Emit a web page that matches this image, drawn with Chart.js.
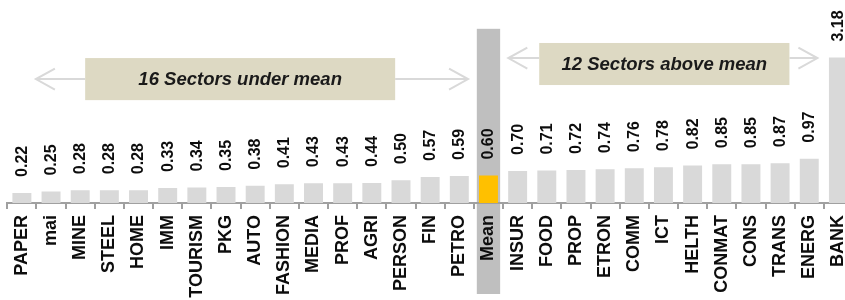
<!DOCTYPE html>
<html>
<head>
<meta charset="utf-8">
<script src="https://cdn.jsdelivr.net/npm/chart.js@4/dist/chart.umd.min.js"></script>
<style>
  html, body { margin: 0; padding: 0; background: #fff; overflow: hidden; }
  #caja { width: 853px; height: 300px; }
</style>
</head>
<body>
<div id="caja"><canvas id="grafico" width="853" height="300"></canvas></div>
<script>
// datos
const categorias = ["PAPER", "mai", "MINE", "STEEL", "HOME", "IMM", "TOURISM", "PKG", "AUTO", "FASHION",
  "MEDIA", "PROF", "AGRI", "PERSON", "FIN", "PETRO", "Mean", "INSUR", "FOOD", "PROP",
  "ETRON", "COMM", "ICT", "HELTH", "CONMAT", "CONS", "TRANS", "ENERG", "BANK"];
const valores = [0.22, 0.25, 0.28, 0.28, 0.28, 0.33, 0.34, 0.35, 0.38, 0.41,
  0.43, 0.43, 0.44, 0.50, 0.57, 0.59, 0.60, 0.70, 0.71, 0.72,
  0.74, 0.76, 0.78, 0.82, 0.85, 0.85, 0.87, 0.97, 3.18];
const etiquetaMedia = "Mean";
const textoAbajo = "16 Sectors under mean";
const textoArriba = "12 Sectors above mean";

const fuente = '"Liberation Sans", Arial, sans-serif';
const indiceMedia = categorias.indexOf(etiquetaMedia);
const colores = categorias.map(c => c === etiquetaMedia ? "#ffc000" : "#d9d9d9");

// columna gris detras de la media
const fondoMedia = {
  id: "fondoMedia",
  beforeDraw(chart) {
    let ctx = chart.ctx;
    let x = chart.scales.x, y = chart.scales.y;
    let ancho = (x.getPixelForValue(1) - x.getPixelForValue(0)) * 0.8;
    let cx = x.getPixelForValue(indiceMedia);
    let arriba = y.getPixelForValue(3.81);
    let abajo = chart.chartArea.bottom + 91;
    ctx.save();
    ctx.fillStyle = "#bfbfbf";
    ctx.fillRect(cx - ancho / 2, arriba, ancho, abajo - arriba);
    ctx.restore();
  }
};

// valores encima de las barras
const etiquetasValor = {
  id: "etiquetasValor",
  afterDatasetsDraw(chart) {
    let ctx = chart.ctx;
    let barras = chart.getDatasetMeta(0).data;
    ctx.save();
    ctx.font = "bold 16px " + fuente;
    ctx.fillStyle = "#0d0d0d";
    ctx.textAlign = "left";
    ctx.textBaseline = "middle";
    barras.forEach((b, i) => {
      ctx.save();
      ctx.translate(b.x + 0.5, b.y - 16);
      ctx.rotate(-Math.PI / 2);
      ctx.fillText(valores[i].toFixed(2), 0, 0);
      ctx.restore();
    });
    ctx.restore();
  }
};

function flecha(ctx, desde, hasta, y) {
  let dir = hasta > desde ? 1 : -1;
  ctx.beginPath();
  ctx.moveTo(desde, y);
  ctx.lineTo(hasta, y);
  ctx.moveTo(hasta - dir * 19, y - 10.5);
  ctx.lineTo(hasta, y);
  ctx.lineTo(hasta - dir * 19, y + 10.5);
  ctx.stroke();
}

// cajas con flechas
const anotaciones = {
  id: "anotaciones",
  afterDraw(chart) {
    let ctx = chart.ctx;
    let x = chart.scales.x, y = chart.scales.y;
    let cajas = [
      { texto: textoAbajo, izq: 2.17, der: 12.8, sup: 3.17, inf: 2.25, yFlecha: 2.71, puntaIzq: 0.48, puntaDer: 15.3 },
      { texto: textoArriba, izq: 17.74, der: 26.32, sup: 3.50, inf: 2.58, yFlecha: 3.17, puntaIzq: 16.68, puntaDer: 27.28 }
    ];
    ctx.save();
    cajas.forEach(c => {
      let x1 = x.getPixelForValue(c.izq), x2 = x.getPixelForValue(c.der);
      let y1 = y.getPixelForValue(c.sup), y2 = y.getPixelForValue(c.inf);
      let yf = y.getPixelForValue(c.yFlecha);
      ctx.strokeStyle = "#d9d9d9";
      ctx.lineWidth = 2;
      flecha(ctx, x1, x.getPixelForValue(c.puntaIzq), yf);
      flecha(ctx, x2, x.getPixelForValue(c.puntaDer), yf);
      ctx.fillStyle = "#ddd9c3";
      ctx.fillRect(x1, y1, x2 - x1, y2 - y1);
      ctx.fillStyle = "#1a1a1a";
      ctx.font = "italic bold 18.5px " + fuente;
      ctx.textAlign = "center";
      ctx.textBaseline = "middle";
      ctx.fillText(c.texto, (x1 + x2) / 2, (y1 + y2) / 2 + 1);
    });
    ctx.restore();
  }
};

new Chart("grafico", {
  type: "bar",
  data: {
    labels: categorias,
    datasets: [{
      data: valores,
      backgroundColor: colores,
      borderWidth: 0,
      categoryPercentage: 1,
      barPercentage: 0.65
    }]
  },
  options: {
    responsive: false,
    animation: false,
    events: [],
    layout: { padding: { left: 7.3, right: 0, top: 0, bottom: 0 } },
    plugins: {
      legend: { display: false },
      tooltip: { enabled: false }
    },
    scales: {
      x: {
        afterFit(scale) {
          scale.height = 97;
          scale.paddingLeft = 0;
          scale.paddingRight = 0;
        },
        border: { display: true, color: "#a0a0a0", width: 2 },
        grid: { display: true, drawOnChartArea: false, drawTicks: true, tickLength: 6, color: "#a0a0a0", lineWidth: 2, offset: true },
        ticks: {
          autoSkip: false,
          maxRotation: 90,
          minRotation: 90,
          padding: 6,
          color: "#0d0d0d",
          font: { family: fuente, size: 18, weight: "bold" }
        }
      },
      y: {
        display: false,
        min: 0,
        max: 4.44
      }
    }
  },
  plugins: [fondoMedia, etiquetasValor, anotaciones]
});
</script>
</body>
</html>
